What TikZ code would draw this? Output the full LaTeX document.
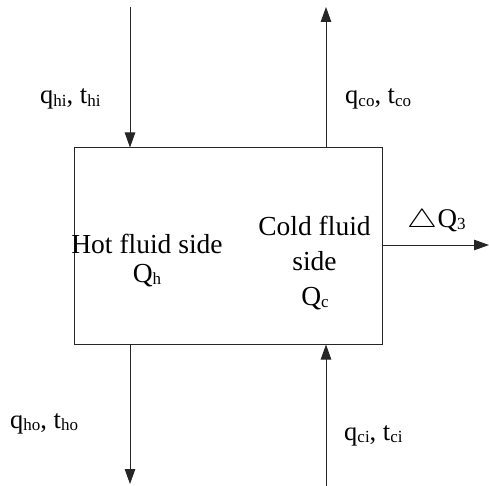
\documentclass[tikz,border=0pt]{standalone}
\usepackage{fontspec}
\setmainfont{Liberation Serif}
\usepackage{graphicx}
\usetikzlibrary{arrows.meta}
\newcommand{\sbs}[1]{\raisebox{-2.5pt}{\fontsize{17}{17}\selectfont #1}}
\tikzset{
  flow/.style={draw=black!85, line width=1pt, -{Triangle[length=15pt,width=10.5pt]}},
  lab/.style={inner sep=0pt, anchor=base west, font=\fontsize{26.5}{30}\selectfont},
  side/.style={inner sep=0pt, anchor=base, font=\fontsize{27.5}{33}\selectfont},
  boxstyle/.style={draw=black!85, line width=1pt, inner sep=0pt, minimum width=308pt, minimum height=196pt}
}
\begin{document}
\begin{tikzpicture}[x=1pt,y=-1pt]
\useasboundingbox (0,0) rectangle (489,486);
\node[boxstyle] (box) at (228,246) {};
% free ends
\coordinate (hin) at (130,7);
\coordinate (cout) at (326,7);
\coordinate (hout) at (130,484);
\coordinate (cin) at (326,486);
\coordinate (qout) at (489,245);
% connectors
\draw[flow] (hin) -- (hin |- box.north);
\draw[flow] (cout |- box.north) -- (cout);
\draw[flow] (hout |- box.south) -- (hout);
\draw[flow] (cin) -- (cin |- box.south);
\draw[flow] (qout -| box.east) -- (qout);
% labels
\node[lab] (lhi) at (40,104) {q\sbs{hi}, t\sbs{hi}};
\node[lab] (lco) at (345,104) {q\sbs{co}, t\sbs{co}};
\node[lab] (lho) at (10,428) {q\sbs{ho}, t\sbs{ho}};
\node[lab] (lci) at (344,440) {q\sbs{ci}, t\sbs{ci}};
\node[lab, font=\fontsize{27}{30}\selectfont] (ldq) at (407,227) {\scalebox{1.35}[1.05]{$\bigtriangleup$}\kern0.5pt Q\sbs{3}};
% inside texts
\node[side] (hot) at (147,253) {Hot fluid side};
\node[side] (qh) at (147,282) {Q\sbs{h}};
\node[side] (cold) at (314.5,235) {Cold fluid};
\node[side] (cside) at (314.5,270) {side};
\node[side] (qc) at (315,305) {Q\sbs{c}};
\end{tikzpicture}
\end{document}
